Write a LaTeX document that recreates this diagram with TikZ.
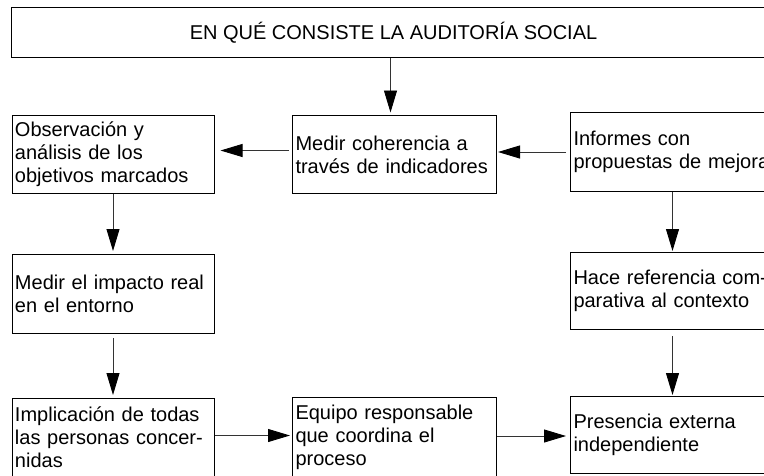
\documentclass[tikz,border=0pt]{standalone}
\usepackage{fontspec}
\setmainfont{Liberation Sans}
\usetikzlibrary{arrows.meta}
\tikzset{
  stepbox/.style={draw=black, line width=1pt, rectangle, anchor=north west, inner xsep=3pt, inner ysep=0pt,
    align=left, font=\fontsize{20pt}{23pt}\selectfont},
  titlebox/.style={draw=black, line width=1pt, rectangle, anchor=north west, inner sep=0pt,
    minimum width=764pt, minimum height=50pt, font=\fontsize{20pt}{23pt}\selectfont},
  arr/.style={draw=black!80, line width=0.9pt, -{Triangle[length=22pt,width=13pt,color=black]}}
}
\begin{document}
\begin{tikzpicture}[x=1pt,y=-1pt]
\useasboundingbox (0,0) rectangle (764,475);
\clip (0,0) rectangle (764,475);
\node[titlebox] (title) at (11,7) {EN QUÉ CONSISTE LA AUDITORÍA SOCIAL};
\node[stepbox, text width=196pt, minimum height=78pt] (A) at (11.5,115) {Observación y\\análisis de los\\objetivos marcados};
\node[stepbox, text width=198pt, minimum height=78pt] (B) at (292,115) {Medir coherencia a\\través de indicadores};
\node[stepbox, text width=198pt, minimum height=79pt] (C) at (570,112) {Informes con\\propuestas de mejora};
\node[stepbox, text width=196pt, minimum height=79pt] (D) at (11.5,254) {Medir el impacto real\\en el entorno};
\node[stepbox, text width=198pt, minimum height=77pt] (E) at (570,252) {Hace referencia com-\\parativa al contexto};
\node[stepbox, text width=196pt, minimum height=78pt] (F) at (11.5,398) {Implicación de todas\\las personas concer-\\nidas};
\node[stepbox, text width=198pt, minimum height=79pt] (G) at (292,397) {Equipo responsable\\que coordina el\\proceso};
\node[stepbox, text width=198pt, minimum height=77pt] (H) at (570,396) {Presencia externa\\independiente};
% connectors
\draw[arr, shorten >=2.5pt] ([xshift=-4pt]B.north |- title.south) -- ([xshift=-4pt]B.north);
\draw[arr, shorten <=3pt, shorten >=6pt] ([yshift=4pt]B.west) -- ([yshift=4pt]B.west -| A.east);
\draw[arr, shorten <=4pt, shorten >=1pt] (C.west) -- (C.west -| B.east);
\draw[arr, shorten >=3pt] (A.south) -- (A.south |- D.north);
\draw[arr, shorten >=1pt] (C.south) -- (C.south |- E.north);
\draw[arr, shorten <=4pt, shorten >=3pt] (D.south) -- (D.south |- F.north);
\draw[arr, shorten <=6pt, shorten >=1pt] (E.south) -- (E.south |- H.north);
\draw[arr, shorten >=2pt] ([yshift=2pt]F.east) -- ([yshift=2pt]F.east -| G.west);
\draw[arr, shorten >=4pt] ([yshift=1pt]G.east) -- ([yshift=1pt]G.east -| H.west);
\end{tikzpicture}
\end{document}
